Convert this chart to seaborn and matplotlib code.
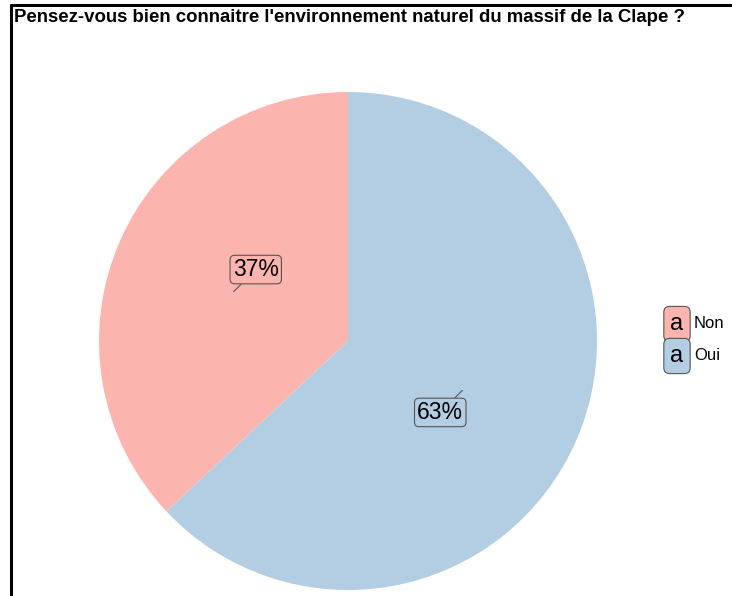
import numpy as np
import matplotlib
matplotlib.use("Agg")
import matplotlib.pyplot as plt
from matplotlib.lines import Line2D
import seaborn as sns

# data
categories = ["Non", "Oui"]
shares = [37, 63]
title = "Pensez-vous bien connaitre l'environnement naturel du massif de la Clape ?"

sns.set_theme(style="white")
plt.rcParams["font.family"] = ["Liberation Sans", "DejaVu Sans"]
plt.rcParams["text.color"] = "black"
colors = sns.color_palette("Pastel1", 2)

W, H = 732, 596
fig = plt.figure(figsize=(W / 100, H / 100), dpi=100)

# pie axes, centred on (348, 341) px with radius 249 px
cx, cy, r = 348, 341, 249
ax = fig.add_axes([(cx - r) / W, (H - cy - r) / H, 2 * r / W, 2 * r / H])
wedges, _ = ax.pie(shares, colors=colors, startangle=90, counterclock=True,
                   radius=1, wedgeprops=dict(linewidth=0))
ax.set_xlim(-1, 1)
ax.set_ylim(-1, 1)
ax.set_aspect("equal")
ax.axis("off")

# labels at half radius, pushed toward centre (ggrepel look)
total = sum(shares)
start = 90
for val, col in zip(shares, colors):
    mid = np.deg2rad(start + val / total * 360 / 2)
    start += val / total * 360
    px, py = 0.5 * np.cos(mid), 0.5 * np.sin(mid)
    off = (22 if px < 0 else -22, 22 if py > 0 else -22)
    ax.annotate(f"{val}%", xy=(px, py), xytext=off, textcoords="offset pixels",
                ha="center", va="center", fontsize=16.5, color="black",
                bbox=dict(boxstyle="round,pad=0.12,rounding_size=0.2",
                          fc=col, ec="#555555", lw=0.8),
                arrowprops=dict(arrowstyle="-", color="#555555", lw=0.8,
                                shrinkA=0, shrinkB=0))

# title
fig.text(14 / W, 1 - 18 / H, title, ha="left", va="center",
         fontsize=13.4, fontweight="bold", color="black")

# legend (label-style keys)
for i, (cat, col) in enumerate(zip(categories, colors)):
    ky = 1 - (324 + i * 32) / H
    fig.text(677 / W, ky, "a", ha="center", va="center", fontsize=17,
             color="black",
             bbox=dict(boxstyle="round,pad=0.28,rounding_size=0.25",
                       fc=col, ec="#555555", lw=0.8))
    fig.text(694 / W, ky, cat, ha="left", va="center", fontsize=12,
             color="black")

# frame lines from the screenshot
fig.add_artist(Line2D([10.5 / W, 1], [1 - 5 / H, 1 - 5 / H],
                      transform=fig.transFigure, color="black", lw=2.2))
fig.add_artist(Line2D([10.5 / W, 10.5 / W], [0, 1 - 5 / H],
                      transform=fig.transFigure, color="black", lw=2.2))

fig.savefig("out.png", dpi=100)
